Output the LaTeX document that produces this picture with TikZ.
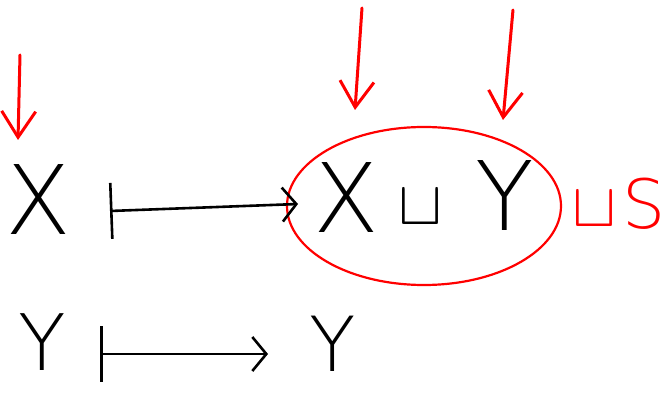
\documentclass[tikz,border=0pt]{standalone}
\usepackage{fontspec}
\usepackage{graphicx}
\setmainfont{DejaVu Sans}
\newfontfamily\thin{DejaVu Sans ExtraLight}
\usetikzlibrary{arrows.meta,shapes.geometric}
\newcommand{\hcup}{\scalebox{6.6}[6.2]{$\sqcup$}}
\tikzset{
  glyph/.style={inner sep=0pt, font=\thin\fontsize{96}{96}\selectfont},
  cupglyph/.style={inner sep=0pt},
  mapsto/.style={line width=2.6pt, black, line cap=round, {Bar[width=56pt,line width=2.6pt]}-{Straight Barb[length=14pt,width=34pt,line width=2.6pt]}},
  redarrow/.style={line width=3pt, red, line cap=round, -{Straight Barb[length=26pt,width=34pt,line width=3pt]}},
}
\begin{document}
\begin{tikzpicture}[x=1pt,y=-1pt]
\useasboundingbox (0,0) rectangle (670,395);
% top row
\node[glyph] (xl) at (38,200) {X};
\coordinate (b1) at (110,211);
\coordinate (t1) at (298,204);
\node[draw=red, line width=2.2pt, ellipse, minimum width=274pt, minimum height=158pt, inner sep=0pt] (grp) at (424,206) {};
\node[glyph] (xr) at (346,198) {X};
\node[cupglyph] (sq) at (420,207) {\hcup};
\node[glyph] (yr) at (505,196) {Y};
\node[red, cupglyph] (sqs) at (594,209) {\hcup};
\node[red, glyph, font=\thin\fontsize{68}{68}\selectfont] (s) at (644,204) {S};
\draw[mapsto] (b1) -- (t1);
% red arrows
\coordinate (r1a) at (20,55);
\coordinate (r1b) at (18,140);
\coordinate (r2a) at (362,8);
\coordinate (r2b) at (355,110);
\coordinate (r3a) at (513,10);
\coordinate (r3b) at (503,120);
\draw[redarrow] (r1a) -- (r1b);
\draw[redarrow] (r2a) -- (r2b);
\draw[redarrow] (r3a) -- (r3b);
% bottom row
\node[glyph, font=\thin\fontsize{78}{78}\selectfont] (yl) at (42,342) {Y};
\coordinate (b2) at (100,354);
\coordinate (t2) at (268,354);
\draw[mapsto] (b2) -- (t2);
\node[glyph, font=\thin\fontsize{76}{76}\selectfont] (ybr) at (333,344) {Y};
\end{tikzpicture}
\end{document}
